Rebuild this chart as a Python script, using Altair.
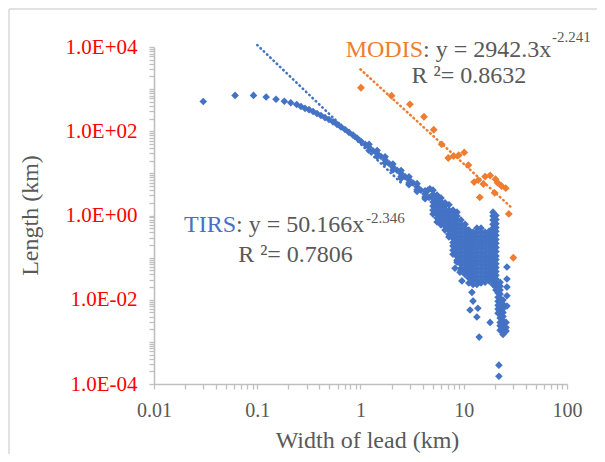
import altair as alt
import pandas as pd

# ---------------- data ----------------
# TIRS: sparse points at small widths
tirs_sparse_width = [0.030, 0.061, 0.092, 0.122, 0.152, 0.183, 0.211, 0.241]
tirs_sparse_length = [510, 710, 710, 650, 575, 515, 475, 430]

# TIRS: main curve
tirs_curve_width = [0.265, 0.290, 0.317, 0.347, 0.379, 0.414, 0.453, 0.495, 0.542, 0.592,
                    0.647, 0.708, 0.774, 0.846, 0.925, 1.01, 1.11, 1.21, 1.32, 1.45,
                    1.58, 1.73, 1.89, 2.06, 2.26, 2.47, 2.70, 2.95, 3.23, 3.53,
                    3.85, 4.22, 4.61,
                    1.21, 1.21, 1.45, 1.45, 1.73, 1.73, 2.06, 2.06, 2.47, 2.47, 2.47,
                    2.95, 2.95, 2.95, 3.53, 3.53, 3.53, 4.22, 4.22, 4.22, 4.5, 4.7]
tirs_curve_length = [386, 350, 326, 294, 263, 236, 211, 190, 167, 146,
                     127, 110, 94, 81, 69, 58, 49, 41.7, 34.5, 29.7,
                     25.1, 20.9, 17.2, 14.1, 11.9, 9.95, 8.36, 7.01, 5.89, 4.83,
                     3.97, 3.26, 2.69,
                     49, 35, 35, 25, 24.7, 17.7, 16.6, 12, 11.7, 8.4, 7.6,
                     8.3, 5.9, 5.4, 5.7, 4.1, 3.7, 3.85, 2.76, 2.5, 4.0, 4.3]

# TIRS: dense region, column by column (width, lengths)
tirs_columns = [
    (5.04, [4.0, 3.2, 2.6, 2.1, 1.67, 1.34, 1.08]),
    (5.51, [3.05, 2.6, 2.1, 1.67, 1.34, 1.08, 0.87, 0.70]),
    (6.02, [2.6, 2.1, 1.67, 1.34, 1.08, 0.87, 0.70, 0.60]),
    (6.58, [2.0, 1.67, 1.34, 1.08, 0.87, 0.70, 0.56, 0.45]),
    (7.19, [1.8, 1.34, 1.08, 0.87, 0.70, 0.56, 0.45, 0.36, 0.31]),
    (7.87, [1.34, 1.08, 0.87, 0.70, 0.56, 0.45, 0.36, 0.29, 0.23, 0.19, 0.15, 0.12]),
    (8.60, [1.2, 0.97, 0.78, 0.62, 0.50, 0.40, 0.32, 0.26, 0.21, 0.17, 0.135, 0.108, 0.087, 0.078]),
    (9.40, [0.78, 0.62, 0.50, 0.40, 0.32, 0.26, 0.21, 0.17, 0.135, 0.108, 0.087, 0.070, 0.056, 0.050]),
    (10.3, [0.62, 0.50, 0.40, 0.32, 0.26, 0.21, 0.17, 0.135, 0.108, 0.087, 0.070, 0.056, 0.045, 0.040]),
    (11.2, [0.45, 0.36, 0.29, 0.23, 0.19, 0.15, 0.12, 0.097, 0.078, 0.063, 0.050, 0.041, 0.033, 0.025]),
    (12.3, [0.40, 0.32, 0.26, 0.21, 0.17, 0.135, 0.108, 0.087, 0.070, 0.056, 0.045, 0.036, 0.029, 0.023]),
    (13.4, [0.50, 0.40, 0.32, 0.26, 0.21, 0.17, 0.135, 0.108, 0.087, 0.070, 0.056, 0.045, 0.036, 0.029, 0.023]),
    (14.7, [0.50, 0.40, 0.32, 0.26, 0.21, 0.17, 0.135, 0.108, 0.087, 0.070, 0.056, 0.045, 0.036, 0.029, 0.025]),
    (16.1, [0.40, 0.32, 0.26, 0.21, 0.17, 0.135, 0.108, 0.087, 0.070, 0.056, 0.045, 0.036, 0.029, 0.026]),
    (17.6, [0.42, 0.34, 0.27, 0.22, 0.175, 0.14, 0.11, 0.09, 0.072, 0.058, 0.047, 0.038, 0.031, 0.028]),
    (19.2, [1.2, 0.97, 0.78, 0.62, 0.50, 0.40, 0.32, 0.26, 0.21, 0.17, 0.135, 0.108, 0.087, 0.070,
            0.056, 0.045, 0.036, 0.029, 0.023]),
    (20.5, [1.0, 0.80, 0.64, 0.52, 0.42, 0.34, 0.27, 0.22, 0.175, 0.14, 0.11, 0.09, 0.072, 0.058,
            0.047, 0.038, 0.031, 0.025, 0.020, 0.017]),
    (21.5, [0.023, 0.018, 0.0145, 0.0115, 0.0092, 0.0074, 0.0060, 0.0048]),
    (22.5, [0.026, 0.021, 0.017, 0.0136, 0.0109, 0.0088, 0.0070, 0.0057, 0.0045, 0.0037, 0.0029,
            0.0024, 0.0019]),
    (24.0, [0.0098, 0.0078, 0.0062, 0.0050, 0.0040, 0.0032, 0.0026, 0.0021, 0.0017, 0.0015]),
    (25.7, [0.0029, 0.0022, 0.0018]),
    (26.2, [0.060, 0.031, 0.020, 0.0124, 0.0071]),
]

# TIRS: scattered outliers
tirs_outlier_width = [8.23, 9.2, 9.6, 12.0, 12.3, 11.5, 13.7, 13.4, 18.0, 14.1, 21.9, 21.9]
tirs_outlier_length = [0.056, 0.045, 0.028, 0.015, 0.0093, 0.0057, 0.0063, 0.0039, 0.0029,
                       0.0013, 0.00028, 0.000153]

# MODIS points
modis_width = [1.01, 2.0, 3.01, 4.12, 5.12, 6.11, 7.08, 7.97, 8.93, 10.1, 11.1, 12.6,
               13.8, 15.5, 16.1, 18.0, 20.3, 21.3, 23.2, 25.5, 19.9, 14.3, 27.3, 30.2]
modis_length = [1079, 697, 435, 221, 108.6, 48.9, 23.1, 25.8, 27.1, 31.5, 15.7, 6.2,
                6.9, 5.6, 8.4, 8.9, 7.3, 6.0, 5.0, 4.45, 3.45, 2.7, 1.09, 0.099]

# Power-law trend lines (end points)
tirs_trend_width = [0.1, 2.6]
tirs_trend_length = [11127, 5.33]
modis_trend_width = [1.0, 29.0]
modis_trend_length = [2942.3, 1.54]

x_ticks = [0.01, 0.02, 0.03, 0.04, 0.05, 0.06, 0.07, 0.08, 0.09,
           0.1, 0.2, 0.3, 0.4, 0.5, 0.6, 0.7, 0.8, 0.9,
           1, 2, 3, 4, 5, 6, 7, 8, 9,
           10, 20, 30, 40, 50, 60, 70, 80, 90, 100]
y_ticks = [m * 10.0 ** e for e in range(-4, 4) for m in range(1, 10)] + [1e4]

BLUE = "#4472C4"
ORANGE = "#ED7D31"
GRAY = "#595959"
AXIS = "#BFBFBF"
FONT = "Liberation Serif"

# ---------------- tables ----------------
tw = list(tirs_sparse_width) + list(tirs_curve_width)
tl = list(tirs_sparse_length) + list(tirs_curve_length)
for cx, ys in tirs_columns:
    tw += [cx] * len(ys)
    tl += ys
tw += tirs_outlier_width
tl += tirs_outlier_length
tirs_df = pd.DataFrame({"x": tw, "y": tl})
modis_df = pd.DataFrame({"x": modis_width, "y": modis_length})
tirs_trend_df = pd.DataFrame({"x": tirs_trend_width, "y": tirs_trend_length})
modis_trend_df = pd.DataFrame({"x": modis_trend_width, "y": modis_trend_length})

ann_left = pd.DataFrame({
    "x": [4.03, 71.6, 0.0623, 1.13],
    "y": [5789, 12790, 0.406, 0.653],
    "t": [": y = 2942.3x", "-2.241", ": y = 50.166x", "-2.346"],
    "c": [GRAY, GRAY, GRAY, GRAY],
    "s": [24, 15, 24, 15],
})
ann_right = pd.DataFrame({
    "x": [4.03, 0.0623],
    "y": [5789, 0.406],
    "t": ["MODIS", "TIRS"],
    "c": [ORANGE, BLUE],
})
ann_center = pd.DataFrame({
    "x": [11.24, 0.2347],
    "y": [1374, 0.080],
    "t": ["R \u00b2= 0.8632", "R \u00b2= 0.7806"],
})

xs = alt.Scale(type="log", domain=[0.01, 100], nice=False)
ys_ = alt.Scale(type="log", domain=[1e-4, 1e4], nice=False)

x_axis = alt.Axis(
    values=x_ticks,
    labelExpr="indexof(['0.01','0.1','1','10','100'], toString(datum.value)) >= 0 ? toString(datum.value) : ''",
    grid=False, tickSize=5, tickColor=AXIS, tickWidth=1.3, domainColor=AXIS, domainWidth=1.6,
    labelColor=GRAY, labelFont=FONT, labelFontSize=20, labelPadding=11,
    labelFlush=False, labelOverlap=False,
    title="Width of lead (km)", titleFont=FONT, titleFontSize=24, titleFontWeight="normal",
    titleColor=GRAY, titleX=213, titleY=63, titleBaseline="alphabetic", titleAlign="center",
)
y_axis = alt.Axis(
    values=y_ticks,
    labelExpr="(abs(log(datum.value)/LN10 - round(log(datum.value)/LN10)) < 0.001 && round(log(datum.value)/LN10) % 2 == 0) ? '1.0E' + (datum.value < 1 ? '-0' : '+0') + abs(round(log(datum.value)/LN10)) : ''",
    grid=False, tickSize=5, tickColor=AXIS, tickWidth=1.3, domainColor=AXIS, domainWidth=1.6,
    labelColor="#FF0000", labelFont=FONT, labelFontSize=21, labelPadding=12,
    labelFlush=False, labelOverlap=False,
    title="Length (km)", titleFont=FONT, titleFontSize=24, titleFontWeight="normal",
    titleColor=GRAY, titleX=-117, titleY=168, titleAngle=-90, titleBaseline="alphabetic",
    titleAlign="center",
)


def X():
    return alt.X("x:Q", scale=xs, axis=x_axis)


def Y():
    return alt.Y("y:Q", scale=ys_, axis=y_axis)


frame_top = alt.Chart(pd.DataFrame({"a": [0]})).mark_rule(color="#D9D9D9", strokeWidth=1.5).encode(
    x=alt.value(-145), x2=alt.value(443), y=alt.value(-38))
frame_left = alt.Chart(pd.DataFrame({"a": [0]})).mark_rule(color="#D9D9D9", strokeWidth=1.5).encode(
    x=alt.value(-145), y=alt.value(-38), y2=alt.value(410))

dot = dict(strokeDash=[0.5, 4], strokeCap="round", strokeWidth=2.6)
tirs_line = alt.Chart(tirs_trend_df).mark_line(color=BLUE, **dot).encode(x=X(), y=Y())
modis_line = alt.Chart(modis_trend_df).mark_line(color=ORANGE, **dot).encode(x=X(), y=Y())

tirs_pts = alt.Chart(tirs_df).mark_point(shape="diamond", filled=True, size=58, color=BLUE,
                                          opacity=1).encode(x=X(), y=Y())
modis_pts = alt.Chart(modis_df).mark_point(shape="diamond", filled=True, size=62, color=ORANGE,
                                            opacity=1).encode(x=X(), y=Y())

txt_left = alt.Chart(ann_left).mark_text(align="left", baseline="alphabetic", font=FONT).encode(
    x=X(), y=Y(), text="t:N", color=alt.Color("c:N", scale=None), size=alt.Size("s:Q", scale=None))
txt_right = alt.Chart(ann_right).mark_text(align="right", baseline="alphabetic", font=FONT,
                                            fontSize=24).encode(
    x=X(), y=Y(), text="t:N", color=alt.Color("c:N", scale=None))
txt_center = alt.Chart(ann_center).mark_text(align="center", baseline="alphabetic", font=FONT,
                                              fontSize=24, color=GRAY).encode(
    x=X(), y=Y(), text="t:N")

chart = alt.layer(
    frame_top, frame_left, tirs_line, modis_line, tirs_pts, modis_pts, txt_left, txt_right, txt_center
).properties(
    width=413, height=337,
    padding={"left": 146, "top": 39, "right": 30, "bottom": 70},
    autosize=alt.AutoSizeParams(type="none"),
    background="white",
).configure_view(stroke=None)

chart.save("out.html", embed_options={"renderer": "svg", "actions": False})
